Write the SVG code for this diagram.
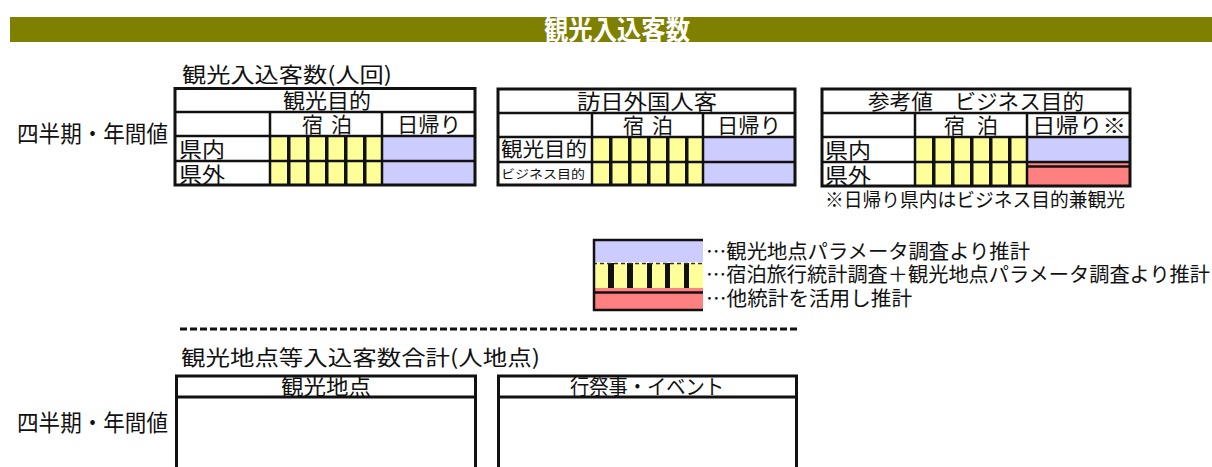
<svg xmlns="http://www.w3.org/2000/svg" width="1212" height="467" viewBox="0 0 1212 467">
<style>
text{font-family:"Noto Sans CJK JP","Noto Sans",sans-serif;fill:#111}
.ln{stroke:#111;stroke-width:2.5;fill:none}
.ob{stroke:#111;stroke-width:3;fill:none}
.y{fill:#ffff99}
.b{fill:#ccccff}
.r{fill:#ff8080}
.bar{fill:#111}
.c{text-anchor:middle}
</style>
<rect width="1212" height="467" fill="#fff"/>
<g id="title">
<rect x="10" y="17" width="1202" height="25" fill="#808000"/>
<text x="617" y="40" class="c" font-size="27" font-weight="bold" style="fill:#fff" textLength="146" lengthAdjust="spacingAndGlyphs">観光入込客数</text>
</g>
<g id="label-visitors">
<text x="182" y="82" font-size="21" textLength="210" lengthAdjust="spacingAndGlyphs">観光入込客数(人回)</text>
<text x="17" y="142" font-size="23" textLength="151" lengthAdjust="spacingAndGlyphs">四半期・年間値</text>
</g>
<g id="table-tourism">
<rect x="270" y="136" width="112" height="49" class="y"/>
<rect x="287" y="136" width="3.5" height="49" class="bar"/>
<rect x="306" y="136" width="3.5" height="49" class="bar"/>
<rect x="325" y="136" width="3.5" height="49" class="bar"/>
<rect x="344" y="136" width="3.5" height="49" class="bar"/>
<rect x="363" y="136" width="3.5" height="49" class="bar"/>
<rect x="382" y="136" width="93" height="49" class="b"/>
<line x1="175" y1="112" x2="475" y2="112" class="ln"/>
<line x1="175" y1="136" x2="475" y2="136" class="ln"/>
<line x1="175" y1="161" x2="475" y2="161" class="ln"/>
<line x1="270" y1="112" x2="270" y2="185" class="ln"/>
<line x1="382" y1="112" x2="382" y2="185" class="ln"/>
<rect x="175" y="88.5" width="300" height="96.5" class="ob"/>
<text x="327" y="108" class="c" font-size="21" textLength="88" lengthAdjust="spacingAndGlyphs">観光目的</text>
<text x="327" y="132" class="c" font-size="21" textLength="50" lengthAdjust="spacing">宿泊</text>
<text x="429" y="132" class="c" font-size="21" textLength="64" lengthAdjust="spacingAndGlyphs">日帰り</text>
<text x="179" y="157" font-size="21" textLength="46" lengthAdjust="spacingAndGlyphs">県内</text>
<text x="179" y="182" font-size="21" textLength="46" lengthAdjust="spacingAndGlyphs">県外</text>
</g>
<g id="table-foreign">
<rect x="592" y="137" width="111" height="48" class="y"/>
<rect x="609" y="137" width="3.5" height="48" class="bar"/>
<rect x="628" y="137" width="3.5" height="48" class="bar"/>
<rect x="647" y="137" width="3.5" height="48" class="bar"/>
<rect x="666" y="137" width="3.5" height="48" class="bar"/>
<rect x="685" y="137" width="3.5" height="48" class="bar"/>
<rect x="703" y="137" width="92" height="48" class="b"/>
<line x1="498" y1="113" x2="795" y2="113" class="ln"/>
<line x1="498" y1="137" x2="795" y2="137" class="ln"/>
<line x1="498" y1="162" x2="795" y2="162" class="ln"/>
<line x1="592" y1="113" x2="592" y2="185" class="ln"/>
<line x1="703" y1="113" x2="703" y2="185" class="ln"/>
<rect x="498" y="89" width="297" height="96" class="ob"/>
<text x="647" y="109" class="c" font-size="21" textLength="140" lengthAdjust="spacingAndGlyphs">訪日外国人客</text>
<text x="648" y="133" class="c" font-size="21" textLength="50" lengthAdjust="spacing">宿泊</text>
<text x="749" y="133" class="c" font-size="21" textLength="64" lengthAdjust="spacingAndGlyphs">日帰り</text>
<text x="501" y="157" font-size="20" textLength="86" lengthAdjust="spacingAndGlyphs">観光目的</text>
<text x="501" y="179" font-size="12" textLength="84" lengthAdjust="spacingAndGlyphs">ビジネス目的</text>
</g>
<g id="table-business">
<rect x="915" y="137" width="112" height="49" class="y"/>
<rect x="932" y="137" width="3.5" height="49" class="bar"/>
<rect x="951" y="137" width="3.5" height="49" class="bar"/>
<rect x="970" y="137" width="3.5" height="49" class="bar"/>
<rect x="989" y="137" width="3.5" height="49" class="bar"/>
<rect x="1008" y="137" width="3.5" height="49" class="bar"/>
<rect x="1027" y="137" width="103" height="25" class="b"/>
<rect x="1027" y="162" width="103" height="24" class="r"/>
<line x1="1027" y1="166.5" x2="1130" y2="166.5" class="ln"/>
<line x1="822" y1="113" x2="1130" y2="113" class="ln"/>
<line x1="822" y1="137" x2="1130" y2="137" class="ln"/>
<line x1="822" y1="162" x2="1130" y2="162" class="ln"/>
<line x1="915" y1="113" x2="915" y2="186" class="ln"/>
<line x1="1027" y1="113" x2="1027" y2="186" class="ln"/>
<rect x="822" y="89" width="308" height="97" class="ob"/>
<text x="976" y="109" class="c" font-size="21" textLength="216" lengthAdjust="spacingAndGlyphs">参考値　ビジネス目的</text>
<text x="971" y="133" class="c" font-size="21" textLength="54" lengthAdjust="spacing">宿泊</text>
<text x="1079" y="133" class="c" font-size="21" textLength="94" lengthAdjust="spacingAndGlyphs">日帰り※</text>
<text x="825" y="158" font-size="21" textLength="46" lengthAdjust="spacingAndGlyphs">県内</text>
<text x="825" y="183" font-size="21" textLength="46" lengthAdjust="spacingAndGlyphs">県外</text>
<text x="825" y="207" font-size="19" textLength="300" lengthAdjust="spacingAndGlyphs">※日帰り県内はビジネス目的兼観光</text>
</g>
<g id="legend">
<rect x="593" y="241" width="110" height="21" class="b"/>
<rect x="593" y="263" width="110" height="25" class="y"/>
<rect x="608" y="263" width="6" height="25" class="bar"/>
<rect x="627" y="263" width="6" height="25" class="bar"/>
<rect x="647" y="263" width="5" height="25" class="bar"/>
<rect x="665" y="263" width="5" height="25" class="bar"/>
<rect x="684" y="263" width="5" height="25" class="bar"/>
<line x1="593" y1="263.5" x2="703" y2="263.5" stroke="#333" stroke-width="1.5" stroke-dasharray="4 3"/>
<rect x="593" y="288" width="110" height="22" class="r"/>
<line x1="593" y1="292.5" x2="703" y2="292.5" class="ln"/>
<line x1="593" y1="310" x2="703" y2="310" class="ln"/>
<line x1="593" y1="240" x2="703" y2="240" class="ln"/>
<line x1="594" y1="239" x2="594" y2="311" class="ln"/>
<text x="706" y="259" font-size="20" textLength="324" lengthAdjust="spacingAndGlyphs">…観光地点パラメータ調査より推計</text>
<text x="706" y="282" font-size="20" textLength="504" lengthAdjust="spacingAndGlyphs">…宿泊旅行統計調査＋観光地点パラメータ調査より推計</text>
<text x="706" y="306" font-size="20" textLength="206" lengthAdjust="spacingAndGlyphs">…他統計を活用し推計</text>
</g>
<g id="divider">
<line x1="180" y1="329" x2="797" y2="329" stroke="#111" stroke-width="3" stroke-dasharray="7 3"/>
</g>
<g id="label-points">
<text x="181" y="365" font-size="21" textLength="359" lengthAdjust="spacingAndGlyphs">観光地点等入込客数合計(人地点)</text>
<text x="17" y="431" font-size="23" textLength="151" lengthAdjust="spacingAndGlyphs">四半期・年間値</text>
</g>
<g id="table-spots">
<path d="M176.5 470 V376 H475.5 V470" class="ob"/>
<line x1="176" y1="397" x2="476" y2="397" class="ob"/>
<text x="326" y="394" class="c" font-size="21" textLength="90" lengthAdjust="spacingAndGlyphs">観光地点</text>
</g>
<g id="table-events">
<path d="M498.5 470 V376 H796.5 V470" class="ob"/>
<line x1="498" y1="397" x2="797" y2="397" class="ob"/>
<text x="647" y="394" class="c" font-size="21" textLength="154" lengthAdjust="spacingAndGlyphs">行祭事・イベント</text>
</g>
</svg>
